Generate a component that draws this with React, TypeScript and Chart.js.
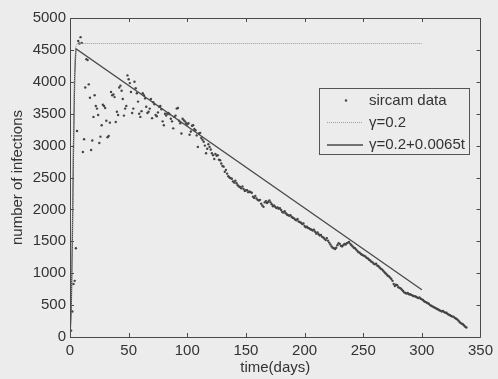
import React, { useEffect, useRef } from "react";
import { Chart, registerables } from "chart.js";

Chart.register(...registerables);

// sircam observed data, one value per day starting at day 1
const firstDay = 1;
const sircamData = [
  100, 400, 830, 880, 1390, 3230, 4640, 4600, 4700, 4610,
  2900, 3100, 3910, 4355, 4340, 3960, 3750, 2930, 3080, 3450,
  3790, 3620, 3580, 3480, 3040, 3140, 3320, 3640, 3620, 3590,
  3390, 3130, 3150, 3360, 3840, 3790, 3800, 3760, 3370, 3530,
  3480, 3910, 3940, 3860, 3730, 3470, 3580, 3620, 4100, 4040,
  3980, 3840, 3510, 3580, 4000, 3900, 3820, 3690, 3500, 3450,
  3540, 3820, 3790, 3740, 3610, 3510, 3530, 3580, 3730, 3430,
  3680, 3650, 3480, 3460, 3520, 3610, 3620, 3570, 3380, 3320,
  3500, 3470, 3500, 3510, 3490, 3420, 3380, 3270, 3450, 3470,
  3580, 3590, 3390, 3350, 3190, 3420, 3400, 3380, 3350, 3330,
  3350, 3170, 3220, 3310, 3320, 3260, 3240, 3160, 2980, 3190,
  3200, 3120, 3090, 3060, 3000, 2880, 2950, 3020, 2980, 2940,
  2880, 2850, 2790, 2870, 2840, 2850, 2780, 2770, 2720, 2680,
  2670, 2590, 2620, 2560, 2520, 2500, 2490, 2480, 2440, 2420,
  2450, 2410, 2380, 2360, 2350, 2330, 2360, 2320, 2290, 2300,
  2300, 2270, 2280, 2270, 2260, 2200, 2180, 2210, 2170, 2150,
  2140, 2150, 2090, 2060, 2040, 2110, 2130, 2100, 2120, 2140,
  2110, 2080, 2050, 2060, 2040, 2020, 2030, 2010, 2020, 1990,
  1960, 1950, 1970, 1940, 1920, 1910, 1900, 1910, 1880, 1870,
  1860, 1840, 1830, 1850, 1810, 1800, 1790, 1770, 1780, 1740,
  1720, 1730, 1710, 1700, 1690, 1680, 1670, 1680, 1650, 1620,
  1640, 1610, 1590, 1600, 1570, 1560, 1540, 1520, 1550, 1510,
  1480, 1450, 1420, 1400, 1390, 1380, 1400, 1440, 1470, 1460,
  1430, 1420, 1440, 1460, 1450, 1470, 1480, 1490, 1460, 1440,
  1420, 1400, 1390, 1370, 1350, 1330, 1320, 1300, 1290, 1280,
  1270, 1260, 1240, 1230, 1210, 1200, 1180, 1170, 1150, 1140,
  1150, 1120, 1110, 1090, 1070, 1060, 1040, 1020, 1000, 980,
  960, 950, 930, 910, 880, 830, 800, 820, 810, 780,
  770, 760, 740, 720, 700, 690, 680, 690, 670, 670,
  660, 650, 640, 640, 630, 620, 610, 620, 600, 590,
  580, 560, 550, 540, 530, 520, 500, 490, 480, 470,
  460, 450, 440, 430, 420, 410, 400, 410, 390, 380,
  380, 360, 350, 340, 330, 320, 320, 300, 290, 280,
  260, 240, 220, 210, 200, 180, 160, 150,
];

// model curve, gamma = 0.2
const constDays = [0, 1, 2, 3, 4, 5, 6, 300];
const constValues = [0, 450, 1600, 3100, 4200, 4550, 4600, 4600];

// model curve, gamma = 0.2 + 0.0065t
const varDays = [0, 1, 2, 3, 4, 5, 300];
const varValues = [0, 400, 1500, 3000, 4100, 4520, 740];

const xTicks = [0, 50, 100, 150, 200, 250, 300, 350];
const yTicks = [0, 500, 1000, 1500, 2000, 2500, 3000, 3500, 4000, 4500, 5000];

const legendLabels = ["sircam data", "γ=0.2", "γ=0.2+0.0065t"];

const FONT = "'Liberation Sans', Arial, sans-serif";
const BG = "#ececec";
const AXIS = "#4a4a4a";
const TEXT = "#333333";

const bgPlugin = {
  id: "bg",
  beforeDraw(chart: any) {
    const { ctx, width, height } = chart;
    ctx.save();
    ctx.fillStyle = BG;
    ctx.fillRect(0, 0, width, height);
    ctx.restore();
  },
};

const boxPlugin = {
  id: "matlabBox",
  afterDraw(chart: any) {
    const { ctx, chartArea } = chart;
    const { left, right, top, bottom } = chartArea;
    const xs = chart.scales.x;
    const ys = chart.scales.y;
    const t = 4;
    ctx.save();
    ctx.strokeStyle = AXIS;
    ctx.lineWidth = 1;
    ctx.beginPath();
    ctx.rect(Math.round(left) + 0.5, Math.round(top) + 0.5, Math.round(right - left), Math.round(bottom - top));
    xTicks.forEach((v) => {
      const px = Math.round(xs.getPixelForValue(v)) + 0.5;
      ctx.moveTo(px, bottom);
      ctx.lineTo(px, bottom - t);
      ctx.moveTo(px, top);
      ctx.lineTo(px, top + t);
    });
    yTicks.forEach((v) => {
      const py = Math.round(ys.getPixelForValue(v)) + 0.5;
      ctx.moveTo(left, py);
      ctx.lineTo(left + t, py);
      ctx.moveTo(right, py);
      ctx.lineTo(right - t, py);
    });
    ctx.stroke();

    // legend
    const bx = 319.5, by = 88.5, bw = 150, bh = 66;
    ctx.fillStyle = BG;
    ctx.fillRect(bx, by, bw, bh);
    ctx.strokeStyle = "#555";
    ctx.strokeRect(bx, by, bw, bh);
    const rows = [100.5, 122.5, 145];
    const sx0 = 327, sx1 = 363, tx = 369;
    ctx.fillStyle = "#444";
    ctx.beginPath();
    ctx.arc(346, rows[0], 1.2, 0, Math.PI * 2);
    ctx.fill();
    ctx.strokeStyle = "#9a9a9a";
    ctx.setLineDash([1, 1]);
    ctx.beginPath();
    ctx.moveTo(sx0, rows[1]);
    ctx.lineTo(sx1, rows[1]);
    ctx.stroke();
    ctx.setLineDash([]);
    ctx.strokeStyle = "#4a4a4a";
    ctx.lineWidth = 1.3;
    ctx.beginPath();
    ctx.moveTo(sx0, rows[2]);
    ctx.lineTo(sx1, rows[2]);
    ctx.stroke();
    ctx.fillStyle = TEXT;
    ctx.font = `15px ${FONT}`;
    ctx.textBaseline = "middle";
    ctx.textAlign = "left";
    legendLabels.forEach((s, i) => ctx.fillText(s, tx, rows[i]));
    ctx.restore();
  },
};

export default function App() {
  const ref = useRef<HTMLCanvasElement | null>(null);

  useEffect(() => {
    if (!ref.current) return;
    const scatterPts = sircamData.map((v, i) => ({ x: i + firstDay, y: v }));
    const constPts = constDays.map((d, i) => ({ x: d, y: constValues[i] }));
    const varPts = varDays.map((d, i) => ({ x: d, y: varValues[i] }));

    const chart = new Chart(ref.current, {
      type: "scatter",
      data: {
        datasets: [
          {
            label: legendLabels[1],
            data: constPts,
            showLine: true,
            borderColor: "#9a9a9a",
            borderWidth: 1,
            borderDash: [1, 1],
            pointRadius: 0,
            tension: 0,
          } as any,
          {
            label: legendLabels[2],
            data: varPts,
            showLine: true,
            borderColor: "#4a4a4a",
            borderWidth: 1.3,
            pointRadius: 0,
            tension: 0,
          } as any,
          {
            label: legendLabels[0],
            data: scatterPts,
            pointRadius: 1.2,
            pointBackgroundColor: "#444",
            pointBorderWidth: 0,
            showLine: false,
          } as any,
        ],
      },
      options: {
        animation: false,
        responsive: false,
        maintainAspectRatio: false,
        layout: { padding: { top: 18, right: 11, left: 0, bottom: 0 } },
        plugins: {
          legend: { display: false },
          tooltip: { enabled: false },
        },
        scales: {
          x: {
            type: "linear",
            min: 0,
            max: 350,
            afterBuildTicks(scale: any) {
              scale.ticks = xTicks.map((v) => ({ value: v }));
            },
            afterFit(scale: any) {
              scale.height = 42;
            },
            grid: { display: false, drawTicks: false },
            border: { display: false },
            ticks: {
              padding: 5,
              color: TEXT,
              font: { family: FONT, size: 15 },
              maxRotation: 0,
              callback: (v: any) => String(v),
            },
            title: {
              display: true,
              text: "time(days)",
              color: TEXT,
              font: { family: FONT, size: 15 },
              padding: { top: 0, bottom: 2 },
            },
          },
          y: {
            type: "linear",
            min: 0,
            max: 5000,
            afterBuildTicks(scale: any) {
              scale.ticks = yTicks.map((v) => ({ value: v }));
            },
            afterFit(scale: any) {
              scale.width = 70;
            },
            grid: { display: false, drawTicks: false },
            border: { display: false },
            ticks: {
              padding: 4,
              color: TEXT,
              font: { family: FONT, size: 15 },
              callback: (v: any) => String(v),
            },
            title: {
              display: true,
              text: "number of infections",
              color: TEXT,
              font: { family: FONT, size: 15 },
              padding: { top: 9, bottom: 0 },
            },
          },
        },
      } as any,
      plugins: [bgPlugin, boxPlugin],
    });
    return () => chart.destroy();
  }, []);

  return (
    <div style={{ position: "absolute", left: 0, top: 0, width: 498, height: 379, background: BG }}>
      <canvas ref={ref} width={498} height={379} style={{ width: 498, height: 379, display: "block" }} />
    </div>
  );
}
